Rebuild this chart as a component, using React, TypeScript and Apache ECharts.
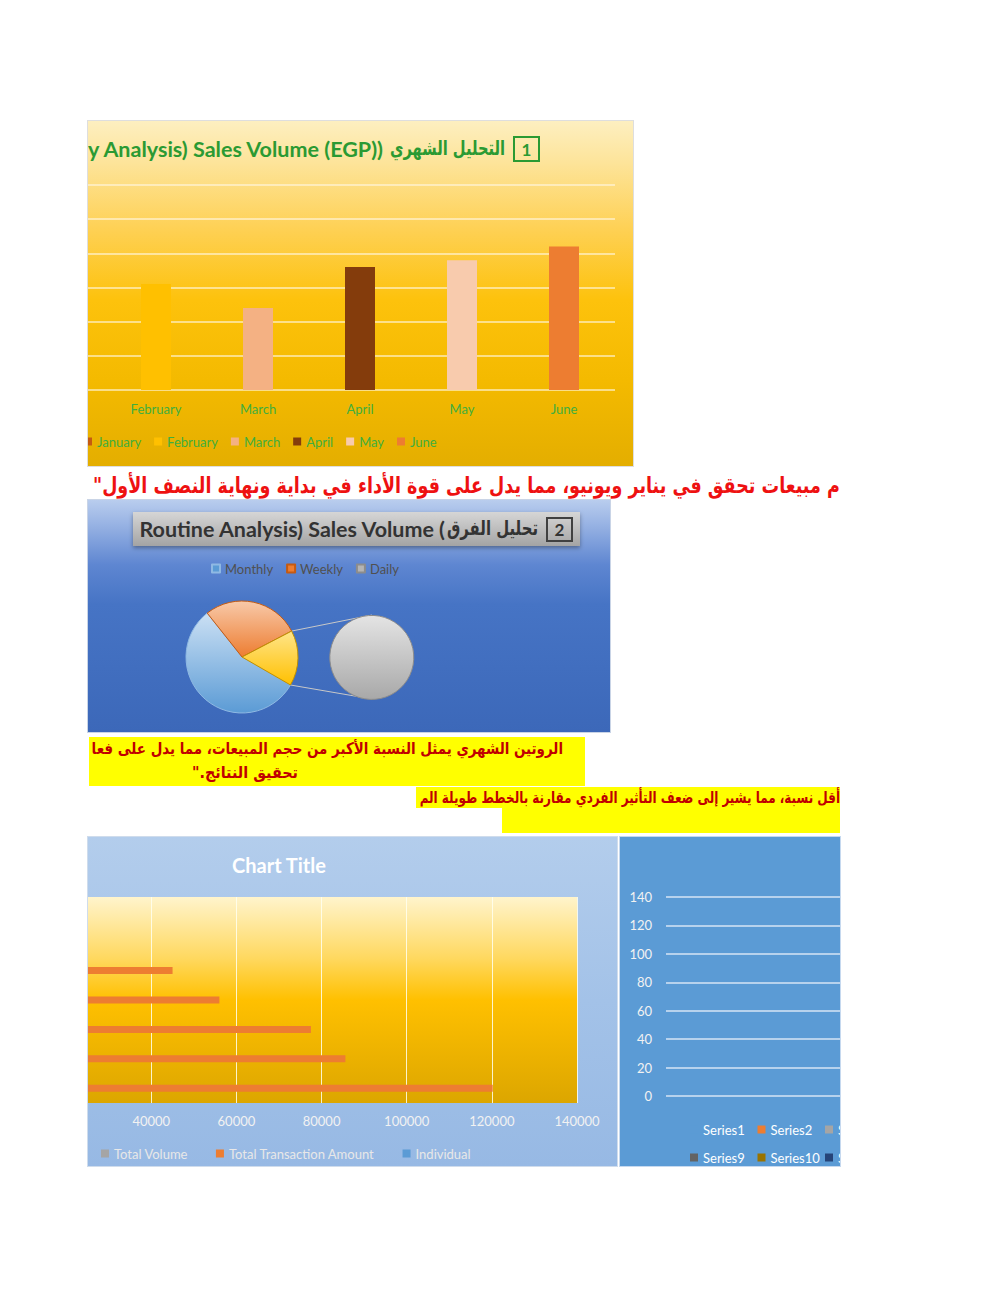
import React, { useEffect, useRef } from "react";
import * as echarts from "echarts";

// ---------- data ----------
const months = ["January", "February", "March", "April", "May", "June"];
const monthlySales = [45000, 31000, 24000, 36000, 38000, 42000];

const routineTypes = ["Monthly", "Weekly", "Daily"];
const routineShares = [56, 28, 16];

const txnCategories = ["Item 1", "Item 2", "Item 3", "Item 4", "Item 5", "Item 6", "Item 7"];
const totalVolume: (number | null)[] = [null, null, null, null, null, null, null];
const totalTransactionAmount: (number | null)[] = [120200, 85600, 77500, 56000, 45000, null, null];
const individual: (number | null)[] = [null, null, null, null, null, null, null];

const emptySeriesNames = [
  "Series1", "Series2", "Series3", "Series4", "Series5", "Series6", "Series7", "Series8",
  "Series9", "Series10", "Series11", "Series12", "Series13", "Series14", "Series15", "Series16",
];

const title1Latin = "y Analysis) Sales Volume (EGP))";
const title1Arabic = "التحليل الشهري";
const title2Latin = "Routine Analysis) Sales Volume (";
const title2Arabic = "تحليل الفرق";
const redNote = "م مبيعات تحقق في يناير ويونيو، مما يدل على قوة الأداء في بداية ونهاية النصف الأول\"\u200F";
const yellowLine1 = "الروتين الشهري يمثل النسبة الأكبر من حجم المبيعات، مما يدل على فعا";
const yellowLine2 = "تحقيق النتائج.\"\u200F";
const yellowLine3 = "أقل نسبة، مما يشير إلى ضعف التأثير الفردي مقارنة بالخطط طويلة الم";

// ---------- styles ----------
const monthColors = ["#c55a11", "#ffc000", "#f4b183", "#843c0c", "#f8cbad", "#ed7d31"];
const officeColors = [
  "#5b9bd5", "#ed7d31", "#a5a5a5", "#ffc000", "#4472c4", "#70ad47", "#255e91", "#9e480e",
  "#636363", "#997300", "#264478", "#43682b", "#7cafdd", "#f1975a", "#b7b7b7", "#ffcd33",
];
const FONT = "Lato, 'DejaVu Sans', sans-serif";
const AR_FONT = "'DejaVu Sans', sans-serif";
const LG = (stops: [number, string][]) =>
  new echarts.graphic.LinearGradient(0, 0, 0, 1, stops.map(([offset, color]) => ({ offset, color })));

let measureCtx: CanvasRenderingContext2D | null = null;
function textWidth(text: string, font: string) {
  if (!measureCtx) measureCtx = document.createElement("canvas").getContext("2d");
  measureCtx!.font = font;
  return measureCtx!.measureText(text).width || 1;
}
// a text element squeezed/stretched horizontally to span `width` pixels
function fittedText(text: string, font: string, fill: string, x: number, y: number, align: string, width: number) {
  return {
    type: "text", x, y, scaleX: width / textWidth(text, font),
    style: { text, fill, font, align, verticalAlign: "middle" },
  };
}

// ---------- generic panel ----------
function Panel(props: {
  x: number; y: number; w: number; h: number;
  innerX?: number; innerW?: number;
  background?: string; extra?: React.CSSProperties;
  option: () => any;
}) {
  const ref = useRef<HTMLDivElement>(null);
  useEffect(() => {
    const c = echarts.init(ref.current!, undefined, { renderer: "svg" });
    c.setOption({ animation: false, ...props.option() });
    return () => c.dispose();
  }, []);
  return (
    <div
      style={{
        position: "absolute", left: props.x, top: props.y, width: props.w, height: props.h,
        overflow: "hidden", background: props.background || "transparent", ...(props.extra || {}),
      }}
    >
      <div
        ref={ref}
        style={{ position: "absolute", left: props.innerX || 0, top: 0, width: props.innerW || props.w, height: props.h }}
      />
    </div>
  );
}

// ---------- chart 1: monthly bars ----------
const chart1Option = () => ({
  textStyle: { fontFamily: FONT },
  grid: { left: 0, right: 18, top: 64, bottom: 76 },
  xAxis: {
    type: "category", data: months,
    axisLine: { show: false }, axisTick: { show: false },
    // the first category's label lies outside the visible frame
    axisLabel: { color: "#3fae3f", fontSize: 13, margin: 12, fontFamily: FONT, interval: (i: number) => i > 0 },
  },
  yAxis: {
    type: "value", min: 0, max: 60000, interval: 10000,
    axisLabel: { show: false }, axisLine: { show: false }, axisTick: { show: false },
    splitLine: { lineStyle: { color: "rgba(255,248,225,0.8)", width: 1.5 } },
  },
  legend: {
    data: months, left: 76, top: 309, itemWidth: 8, itemHeight: 8, itemGap: 13, icon: "rect",
    selectedMode: false, textStyle: { color: "#3fae3f", fontSize: 13, fontFamily: FONT },
  },
  series: months.map((m, i) => ({
    type: "bar", name: m, barWidth: 30, barGap: "-100%", silent: true,
    data: monthlySales.map((v, j) => (j === i ? v : "-")),
    itemStyle: { color: monthColors[i] },
  })),
  graphic: [
    fittedText(title1Latin, `bold 21px ${FONT}`, "#2b9a33", 380, 28, "right", 297),
    fittedText(title1Arabic, `bold 20px ${AR_FONT}`, "#2b9a33", 502, 27, "right", 115),
    { type: "rect", shape: { x: 511, y: 16, width: 25, height: 24 }, style: { fill: "none", stroke: "#2b9a33", lineWidth: 2 } },
    {
      type: "text", x: 523.5, y: 28.5,
      style: { text: "1", fill: "#2b9a33", font: `bold 17px ${FONT}`, align: "center", verticalAlign: "middle" },
    },
  ],
});

// ---------- chart 2: pie of pie ----------
const pieC = [154, 157];
const pieR = 56;
const pie2C = [284, 157];
const pie2R = 42;
const pieStart = 330;
const pie2Start = -26;

const chart2Option = () => {
  const shareTotal = routineShares.reduce((a, b) => a + b, 0);
  const angleAt = (cum: number) => pieStart - (360 * cum) / shareTotal;
  const ptOn = (c: number[], r: number, deg: number) => {
    const a = (deg * Math.PI) / 180;
    return [c[0] + r * Math.cos(a), c[1] - r * Math.sin(a)];
  };
  const otherStartPt = ptOn(pieC, pieR, angleAt(routineShares[0] + routineShares[1]));
  const otherEndPt = ptOn(pieC, pieR, angleAt(shareTotal));
  const pie2Edge = ptOn(pie2C, pie2R, pie2Start);
  return {
    textStyle: { fontFamily: FONT },
    legend: {
      data: [
        { name: routineTypes[0], itemStyle: { color: "#5b9bd5" } },
        { name: routineTypes[1], itemStyle: { color: "#ed7d31" } },
        { name: routineTypes[2], itemStyle: { color: "#b4b4b4" } },
      ],
      left: 118, top: 57, itemWidth: 8, itemHeight: 8, itemGap: 13, icon: "rect", selectedMode: false,
      textStyle: { color: "#505050", fontSize: 13, fontFamily: FONT },
    },
    series: [
      {
        type: "pie", center: pieC, radius: pieR, startAngle: pieStart, clockwise: true, silent: true,
        label: { show: false }, labelLine: { show: false }, emphasis: { disabled: true },
        data: [
          { name: routineTypes[0], value: routineShares[0], itemStyle: { color: LG([[0, "#cbe0f4"], [1, "#5b9bd5"]]), borderColor: "#8fb9e3", borderWidth: 1 } },
          { name: routineTypes[1], value: routineShares[1], itemStyle: { color: LG([[0, "#f8c9a9"], [1, "#ed7d31"]]), borderColor: "#c55a11", borderWidth: 1 } },
          { name: "Other", value: routineShares[2], itemStyle: { color: LG([[0, "#ffe58a"], [1, "#ffc000"]]), borderColor: "#c09000", borderWidth: 1 } },
        ],
      },
      {
        type: "pie", center: pie2C, radius: pie2R, startAngle: pie2Start, silent: true,
        label: { show: false }, labelLine: { show: false }, emphasis: { disabled: true },
        data: [
          { name: routineTypes[2], value: routineShares[2], itemStyle: { color: LG([[0, "#e4e4e4"], [1, "#a8a8a8"]]), borderColor: "#8c8c8c", borderWidth: 1 } },
        ],
      },
    ],
    graphic: [
      {
        type: "rect", shape: { x: 45, y: 12, width: 447, height: 34 },
        style: { fill: LG([[0, "#d6d6d6"], [1, "#a4a4a4"]]), shadowBlur: 4, shadowColor: "rgba(0,0,0,0.35)", shadowOffsetY: 2 },
      },
      fittedText(title2Latin, `bold 21px ${FONT}`, "#333333", 357, 29, "right", 307),
      fittedText(title2Arabic, `bold 20px ${AR_FONT}`, "#333333", 450, 28, "right", 91),
      { type: "rect", shape: { x: 459, y: 18, width: 25, height: 23 }, style: { fill: "none", stroke: "#404040", lineWidth: 2 } },
      {
        type: "text", x: 471.5, y: 29.5,
        style: { text: "2", fill: "#333333", font: `bold 17px ${FONT}`, align: "center", verticalAlign: "middle" },
      },
      {
        type: "line", shape: { x1: otherStartPt[0], y1: otherStartPt[1], x2: pie2C[0], y2: pie2C[1] - pie2R },
        style: { stroke: "#c8c8c8", lineWidth: 1 },
      },
      {
        type: "line", shape: { x1: otherEndPt[0], y1: otherEndPt[1], x2: pie2C[0], y2: pie2C[1] + pie2R },
        style: { stroke: "#c8c8c8", lineWidth: 1 },
      },
      {
        type: "line", shape: { x1: pie2C[0], y1: pie2C[1], x2: pie2Edge[0], y2: pie2Edge[1] },
        style: { stroke: "#7a7a7a", lineWidth: 1 },
      },
    ],
  };
};

// ---------- chart 3: horizontal bars ----------
const visibleTickFrom = 40000; // ticks left of this fall outside the visible frame
const chart3Option = () => ({
  textStyle: { fontFamily: FONT },
  grid: {
    left: 10, right: 40, top: 60, bottom: 63, show: true, borderWidth: 0,
    backgroundColor: LG([[0, "#fff4cc"], [0.3, "#ffd85e"], [0.5, "#ffc000"], [1, "#dca600"]]),
  },
  xAxis: {
    type: "value", min: 0, max: 140000, interval: 20000,
    axisLine: { show: false }, axisTick: { show: false },
    axisLabel: {
      color: "#f2f2f2", fontSize: 13, margin: 11, fontFamily: FONT,
      formatter: (v: number) => (v < visibleTickFrom ? "" : String(v)),
    },
    splitLine: { lineStyle: { color: "rgba(255,255,240,0.85)", width: 1 } },
  },
  yAxis: { type: "category", data: txnCategories, show: false },
  legend: {
    data: ["Total Volume", "Total Transaction Amount", "Individual"],
    left: 125, top: 305, itemWidth: 8, itemHeight: 8, itemGap: 28, icon: "rect", selectedMode: false,
    textStyle: { color: "#e8e8e8", fontSize: 13, fontFamily: FONT },
  },
  series: [
    { type: "bar", name: "Total Volume", data: totalVolume, barWidth: 7, silent: true, itemStyle: { color: "#a5a5a5" } },
    { type: "bar", name: "Total Transaction Amount", data: totalTransactionAmount, barWidth: 7, silent: true, itemStyle: { color: "#ed7d31" } },
    { type: "bar", name: "Individual", data: individual, barWidth: 7, silent: true, itemStyle: { color: "#5b9bd5" } },
  ],
  graphic: [
    {
      type: "text", x: 308, y: 28,
      style: { text: "Chart Title", fill: "#ffffff", font: `bold 20px ${FONT}`, align: "center", verticalAlign: "middle" },
    },
  ],
});

// ---------- chart 4: empty axis ----------
// legend laid out in fixed columns, eight per row; only the columns inside the
// visible frame (first three) are drawn
const legendColumnsVisible = 3;
const legendCell = (name: string, idx: number) => ({
  data: [name], left: 65 + (idx % 8) * 67.5, top: idx < 8 ? 281 : 309,
  itemWidth: 8, itemHeight: 8, icon: "rect", selectedMode: false,
  textStyle: { color: "#ffffff", fontSize: 13, fontFamily: FONT },
});
const chart4Option = () => ({
  textStyle: { fontFamily: FONT },
  grid: { left: 46, right: 30, top: 60, bottom: 70 },
  xAxis: { type: "category", data: [], show: false },
  yAxis: {
    type: "value", min: 0, max: 140, interval: 20,
    axisLine: { show: false }, axisTick: { show: false },
    axisLabel: { color: "#f2f2f2", fontSize: 13, margin: 14, fontFamily: FONT },
    splitLine: { lineStyle: { color: "rgba(235,242,250,0.85)", width: 1.5 } },
  },
  legend: emptySeriesNames
    .map((n, i) => ({ n, i }))
    .filter(({ i }) => i % 8 < legendColumnsVisible)
    .map(({ n, i }) => legendCell(n, i)),
  series: emptySeriesNames.map((n, i) => ({ type: "bar", name: n, data: [], itemStyle: { color: officeColors[i] } })),
});

// ---------- free text blocks ----------
const redOption = () => ({
  graphic: [fittedText(redNote, `bold 22px ${AR_FONT}`, "#ee1111", 5, 18, "left", 747)],
});
const yellow1Option = () => ({
  graphic: [
    fittedText(yellowLine1, `bold 16px ${AR_FONT}`, "#c00000", 474, 11, "right", 472),
    fittedText(yellowLine2, `bold 16px ${AR_FONT}`, "#c00000", 209, 36, "right", 106),
  ],
});
const yellow2Option = () => ({
  graphic: [
    { type: "rect", shape: { x: 0, y: 0, width: 424, height: 21 }, style: { fill: "#ffff00" } },
    { type: "rect", shape: { x: 86, y: 21, width: 338, height: 25 }, style: { fill: "#ffff00" } },
    fittedText(yellowLine3, `bold 16px ${AR_FONT}`, "#c00000", 424, 10.5, "right", 421),
  ],
});

export default function App() {
  return (
    <div style={{ position: "absolute", left: 0, top: 0, width: 1000, height: 1294, background: "#ffffff", overflow: "hidden" }}>
      <Panel
        x={88} y={121} w={545} h={345} innerX={-85} innerW={630}
        background="linear-gradient(to bottom, #fdefc0 0%, #fde49a 12%, #fed052 32%, #fdc20c 52%, #f4ba00 75%, #e4ae00 100%)"
        extra={{ outline: "1px solid #dedede" }}
        option={chart1Option}
      />
      <Panel x={88} y={468} w={754} h={34} option={redOption} />
      <Panel
        x={88} y={500} w={522} h={232}
        background="linear-gradient(to bottom, #b9cdee 0%, #93afe2 12%, #5e86d1 28%, #4674c5 45%, #3c68b9 100%)"
        extra={{ outline: "1px solid #c9d4e6" }}
        option={chart2Option}
      />
      <Panel x={89} y={737} w={496} h={49} background="#ffff00" option={yellow1Option} />
      <Panel x={416} y={787} w={424} h={46} option={yellow2Option} />
      <Panel
        x={88} y={837} w={529} h={329} innerX={-117} innerW={646}
        background="linear-gradient(to bottom, #b3cdec 0%, #a3c2e8 50%, #97b9e4 100%)"
        extra={{ outline: "1px solid #cfdcec" }}
        option={chart3Option}
      />
      <Panel
        x={620} y={837} w={220} h={329} innerW={600}
        background="#5b9bd5"
        extra={{ outline: "1px solid #c6d9ef" }}
        option={chart4Option}
      />
    </div>
  );
}
